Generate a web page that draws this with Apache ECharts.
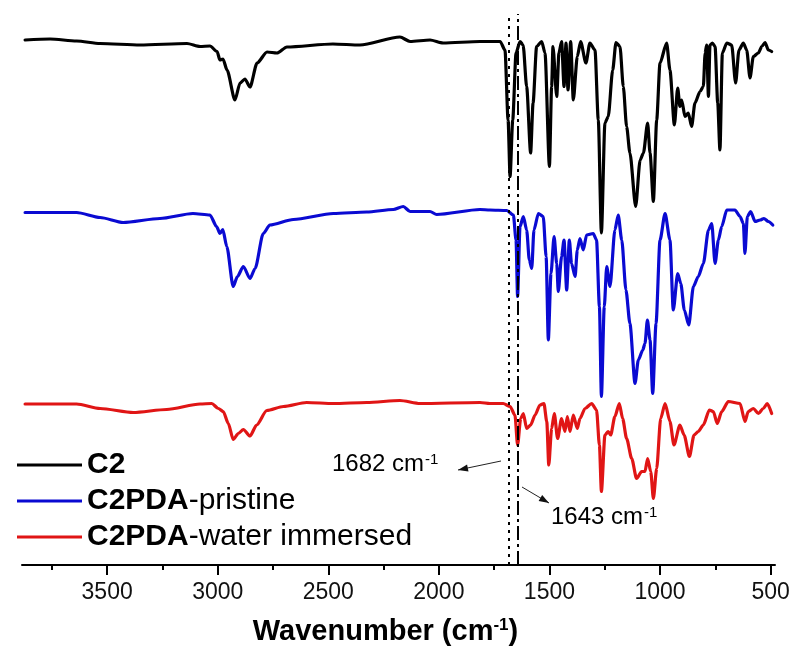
<!DOCTYPE html>
<html>
<head>
<meta charset="utf-8">
<script src="https://cdn.jsdelivr.net/npm/echarts@6/dist/echarts.min.js"></script>
<style>html,body{margin:0;padding:0;background:#fff}#chart{width:793px;height:657px}</style>
</head>
<body>
<div id="chart"></div>
<script>
// ---- Data (wavenumber in cm-1, intensity in arbitrary offset units) ----
const seriesNames = ['C2', 'C2PDA-pristine', 'C2PDA-water immersed'];
const seriesColors = ['#000000', '#0a0ad2', '#e01515'];

const c2Wavenumber = [3871,3758,3638,3532,3351,3139,3080,3035,3003,2990,2976,2958,2922,2899,2877,2854,2822,2777,2732,2687,2479,2357,2176,2130,2040,1981,1814,1723,1701,1687,1678,1666,1651,1633,1619,1603,1585,1574,1558,1535,1520,1500,1490,1484,1467,1457,1445,1434,1425,1416,1404,1392,1374,1359,1335,1317,1294,1279,1265,1249,1234,1214,1199,1181,1166,1151,1136,1110,1090,1075,1056,1045,1030,1015,1000,970,955,935,920,910,902,887,872,857,842,819,804,796,789,781,774,763,751,739,729,718,698,676,658,643,623,608,593,578,555,540,525,510,495];
const c2Intensity = [105,105.2,104.8,104.3,104,104.3,103.7,103.8,102.7,101,101.2,99,93,96.4,97.2,95.6,100.4,102.6,102.4,103.6,104.2,104,105.6,104.7,105,104.4,104.7,104.7,103,89,77.7,89,102.4,104.7,104,95.7,82.4,92.4,103.7,104.7,102.4,79.7,95.7,103.7,93.7,102.4,104.7,95.7,104.4,95,104.7,93,101.7,104.7,100.4,104.4,103,89,66.4,88.4,89.7,99,104.5,103.7,95.7,87.7,82.4,71.7,81,82.4,88.4,82.4,72.7,89,100.4,104.4,99,88,95.4,91.7,93,89.7,90.4,87.7,92.4,94.7,95.7,102.4,104,93.7,104,104.4,103.7,92.4,83,102.4,104.4,104,96.4,103,104.4,103,97.4,101.7,102.4,103.7,104.5,103,102.7];

const pristineWavenumber = [3871,3638,3532,3428,3261,3112,3035,3005,2990,2977,2959,2930,2911,2884,2854,2831,2794,2764,2658,2477,2326,2206,2161,2130,2040,2010,1814,1769,1693,1663,1651,1644,1633,1618,1603,1591,1580,1570,1550,1528,1515,1505,1493,1479,1467,1460,1445,1434,1422,1410,1400,1384,1374,1362,1347,1332,1302,1287,1274,1265,1252,1241,1226,1204,1189,1173,1154,1136,1113,1098,1078,1068,1057,1045,1033,1018,1000,977,955,940,920,906,890,870,849,827,804,781,766,751,736,721,698,661,638,623,616,605,590,570,547,530,510,490];
const pristineIntensity = [70.5,70.5,69.5,68.5,69.3,70.3,70,67.7,66.3,67.1,63.7,55.7,57.7,59.7,57.3,59.3,66.3,68,69.1,70.3,70.6,71.1,71.7,70.7,70.7,70.1,71.1,71,70.9,70,65,53.7,67.7,69.7,67,61,59.3,67,70.3,69.7,61.7,45,58.3,65.7,60.3,54.7,61.7,65,55,65,60.3,57.7,63,65.3,63,66,66.3,65,51.7,33.7,51.7,59.7,55.7,67,70,65,55,48.3,36.3,41,43,44.3,49,45,34.3,48.3,65,70.3,65,51,58.3,56.3,51,48,55.7,57.7,60.3,67,68.3,60.3,65,67.7,71,71,69.7,68.3,62.3,69.7,70.7,68.7,69,69.3,68.7,68];

const immersedWavenumber = [3871,3638,3532,3382,3231,3080,3027,2997,2975,2952,2930,2907,2884,2854,2824,2778,2703,2598,2477,2326,2176,2085,1814,1769,1709,1678,1656,1644,1630,1618,1603,1585,1565,1543,1525,1512,1503,1490,1478,1463,1445,1430,1419,1407,1392,1374,1362,1339,1309,1287,1274,1265,1249,1234,1223,1204,1184,1169,1151,1128,1106,1083,1068,1056,1042,1030,1015,997,977,955,937,910,891,867,846,827,804,777,759,741,721,691,638,616,601,578,555,533,515,495];
const immersedIntensity = [32.2,32.2,31.3,30.5,31.1,32.2,32.3,31.3,30.7,28.3,25.1,26.3,27.1,25.8,28,30.9,31.7,32.5,32.3,32.5,32.9,32.3,32.5,32.3,32.3,31.7,30,24,29.3,30.3,27.3,28,30,32,32.3,28.7,20,27.3,30.3,25.3,29.3,26.7,29.7,26.7,30,27.3,29.3,31.3,32.3,31,24,14.7,26,26.7,26,29.7,32.3,29.3,25.3,21.3,17.3,18.7,18.7,21.3,18.7,13.3,19.3,29.3,32.3,28.7,24,28,26,21.7,26,26.7,28,31,30.7,28.3,30.7,32.7,32.3,28.7,30.7,31.3,30.3,31.3,32.3,30.3];

const majorTicks = [3500, 3000, 2500, 2000, 1500, 1000, 500];
const minorTicks = [3750, 3250, 2750, 2250, 1750, 1250, 750];
const markedPeaks = [1682, 1643];
const xAxisTitle = 'Wavenumber (cm';
const peakLabels = ['1682 cm', '1643 cm'];

// ---- Chart ----
const FONT = "'Liberation Sans', Arial, Helvetica, sans-serif";
const zip = (a, b) => a.map((v, i) => [v, b[i]]);
const allData = [
  zip(c2Wavenumber, c2Intensity),
  zip(pristineWavenumber, pristineIntensity),
  zip(immersedWavenumber, immersedIntensity)
];

const chart = echarts.init(document.getElementById('chart'), null, {renderer: 'canvas'});

const series = seriesNames.map((name, i) => ({
  name: name,
  type: 'line',
  data: allData[i],
  showSymbol: false,
  smooth: 0.25,
  smoothMonotone: 'x',
  color: seriesColors[i],
  lineStyle: {width: 3.2, color: seriesColors[i], join: 'round', cap: 'round'},
  z: 3 - i,
  animation: false
}));
series[0].markLine = {
  silent: true,
  symbol: 'none',
  label: {show: false},
  animation: false,
  data: [
    {xAxis: markedPeaks[0], lineStyle: {color: '#000', width: 2, type: [3, 5]}},
    {xAxis: markedPeaks[1], lineStyle: {color: '#000', width: 2, type: [14, 4, 3, 4]}}
  ]
};

function arrowHead(tip, from, len, half) {
  const dx = tip[0] - from[0], dy = tip[1] - from[1];
  const L = Math.hypot(dx, dy), ux = dx / L, uy = dy / L;
  const bx = tip[0] - ux * len, by = tip[1] - uy * len;
  return [tip, [bx - uy * half, by + ux * half], [bx + uy * half, by - ux * half]];
}

const supRich = {
  n: {fontFamily: FONT, fontSize: 24, color: '#111'},
  s: {fontFamily: FONT, fontSize: 15, color: '#111', verticalAlign: 'top', padding: [0, 0, 10, 1]}
};

const arrow1From = [501, 461], arrow1Tip = [458, 470];
const arrow2From = [522, 487], arrow2Tip = [549, 503];

const option = {
  backgroundColor: '#ffffff',
  animation: false,
  grid: {left: 22, right: 18, top: 14, bottom: 92, containLabel: false},
  legend: {
    orient: 'vertical',
    left: 12,
    top: 444,
    itemWidth: 65,
    itemHeight: 3,
    itemGap: 4,
    icon: 'rect',
    selectedMode: false,
    data: seriesNames,
    formatter: function (name) {
      const k = name.indexOf('-');
      if (k < 0) return '{b|' + name + '}';
      return '{b|' + name.slice(0, k) + '}{r|' + name.slice(k) + '}';
    },
    textStyle: {
      fontFamily: FONT, fontSize: 30, color: '#000', lineHeight: 32,
      rich: {
        b: {fontFamily: FONT, fontSize: 30, fontWeight: 'bold', color: '#000', lineHeight: 32},
        r: {fontFamily: FONT, fontSize: 30, color: '#000', lineHeight: 32}
      }
    }
  },
  xAxis: [
    {
      type: 'value', position: 'bottom', inverse: true, min: 480, max: 3885,
      axisLine: {show: true, onZero: false, lineStyle: {color: '#000', width: 2}},
      axisTick: {show: true, customValues: majorTicks, length: 10, lineStyle: {color: '#000', width: 2}},
      axisLabel: {show: true, customValues: majorTicks, margin: 16, fontFamily: FONT, fontSize: 23, color: '#111',
        formatter: function (v) { return String(v); }},
      splitLine: {show: false},
      name: '{a|' + xAxisTitle + '}{s|-1}{a|)}',
      nameLocation: 'middle',
      nameGap: 52,
      nameTextStyle: {
        padding: [0, 26, 0, 0],
        rich: {
          a: {fontFamily: FONT, fontSize: 29, fontWeight: 'bold', color: '#000'},
          s: {fontFamily: FONT, fontSize: 17, fontWeight: 'bold', color: '#000', verticalAlign: 'top', padding: [0, 0, 12, 0]}
        }
      }
    },
    {
      type: 'value', position: 'bottom', inverse: true, min: 480, max: 3885,
      axisLine: {show: false, onZero: false},
      axisTick: {show: true, customValues: minorTicks, length: 5, lineStyle: {color: '#000', width: 2}},
      axisLabel: {show: false},
      splitLine: {show: false}
    }
  ],
  yAxis: {
    type: 'value', min: 0, max: 110.2, show: false, splitLine: {show: false}
  },
  series: series,
  graphic: [
    {type: 'line', shape: {x1: arrow1From[0], y1: arrow1From[1], x2: arrow1Tip[0], y2: arrow1Tip[1]}, style: {stroke: '#222', lineWidth: 1}},
    {type: 'polygon', shape: {points: arrowHead(arrow1Tip, arrow1From, 10, 3.5)}, style: {fill: '#111'}},
    {type: 'line', shape: {x1: arrow2From[0], y1: arrow2From[1], x2: arrow2Tip[0], y2: arrow2Tip[1]}, style: {stroke: '#222', lineWidth: 1}},
    {type: 'polygon', shape: {points: arrowHead(arrow2Tip, arrow2From, 10, 3.5)}, style: {fill: '#111'}},
    {type: 'text', left: 332, top: 452, style: {text: '{n|' + peakLabels[0] + '}{s|-1}', rich: supRich}},
    {type: 'text', left: 551, top: 505, style: {text: '{n|' + peakLabels[1] + '}{s|-1}', rich: supRich}}
  ]
};
chart.setOption(option);
</script>
</body>
</html>
